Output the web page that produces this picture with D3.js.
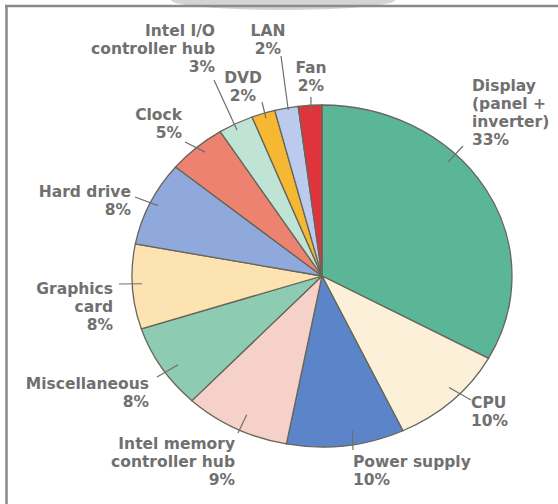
<!DOCTYPE html>
<html>
<head>
<meta charset="utf-8">
<script src="https://cdn.jsdelivr.net/npm/d3@7"></script>
<style>
  html, body { margin: 0; padding: 0; background: #fff; }
  svg { display: block; }
  text { font-family: "DejaVu Sans", sans-serif; font-weight: bold; }
</style>
</head>
<body>
<svg id="chart" width="558" height="504"></svg>
<script>
// ---- data ----
const categories = ["Display (panel + inverter)", "CPU", "Power supply", "Intel memory controller hub",
  "Miscellaneous", "Graphics card", "Hard drive", "Clock", "Intel I/O controller hub", "DVD", "LAN", "Fan"];
const values = [33, 10, 10, 9, 8, 8, 8, 5, 3, 2, 2, 2];
const labelLines = [
  ["Display", "(panel +", "inverter)", "33%"],
  ["CPU", "10%"],
  ["Power supply", "10%"],
  ["Intel memory", "controller hub", "9%"],
  ["Miscellaneous", "8%"],
  ["Graphics", "card", "8%"],
  ["Hard drive", "8%"],
  ["Clock", "5%"],
  ["Intel I/O", "controller hub", "3%"],
  ["DVD", "2%"],
  ["LAN", "2%"],
  ["Fan", "2%"]
];
const colors = ["#5bb597", "#fdf0d8", "#5b85c8", "#f6d1c9", "#8ecbb3", "#fde3b1",
  "#8fa9dd", "#ee8271", "#bfe3d4", "#f6b732", "#bccaee", "#e0343d"];

// ---- layout ----
const cx = 322, cy = 276, rx = 190, ry = 171;
// label anchor: [x, firstLineY, anchor]
const labelPos = [
  [472, 85, "start"], [471, 402, "start"], [353, 461, "start"], [235, 443, "end"],
  [149, 383, "end"], [113, 288, "end"], [131, 191, "end"], [182, 114, "end"],
  [215, 30, "end"], [243, 77, "middle"], [268, 30, "middle"], [311, 67, "middle"]
];
const lineH = 18;
// leader: [fraction along slice, radius fraction, outer x, outer y]
const leaders = [
  [0.378, 0.94, 463, 146], [0.43, 0.934, 471, 400], [0.42, 0.914, 353, 450], [0.47, 0.903, 238, 433],
  [0.43, 0.918, 157, 377], [0.53, 0.948, 119, 284], [0.51, 0.956, 135, 197], [0.56, 0.95, 185, 142],
  [0.44, 0.963, 214, 80], [0.54, 0.97, 262, 102], [0.56, 0.987, 281, 56], [0.51, 0.96, 311, 97]
];

const svg = d3.select("#chart");

// faint watermark shape at top
svg.append("ellipse").attr("cx", 283).attr("cy", 0).attr("rx", 112).attr("ry", 10)
  .attr("fill", "#d4d4d4");

// frame
svg.append("line").attr("x1", 5).attr("x2", 558).attr("y1", 6).attr("y2", 6)
  .attr("stroke", "#8a8a8a").attr("stroke-width", 2.5);
svg.append("line").attr("x1", 6.5).attr("x2", 6.5).attr("y1", 5).attr("y2", 504)
  .attr("stroke", "#8a8a8a").attr("stroke-width", 2.5);

const pie = d3.pie().value(d => d).sort(null);
const arcs = pie(values);
const arc = d3.arc().innerRadius(0).outerRadius(rx);

const g = svg.append("g").attr("transform", `translate(${cx},${cy}) scale(1,${ry / rx})`);
g.selectAll("path").data(arcs).join("path")
  .attr("d", arc)
  .attr("fill", (d, i) => colors[i])
  .attr("stroke", "#66665a")
  .attr("stroke-width", 1.3)
  .attr("vector-effect", "non-scaling-stroke");

// leader lines
arcs.forEach((a, i) => {
  const [t, rf, ox, oy] = leaders[i];
  const ang = a.startAngle + t * (a.endAngle - a.startAngle);
  const ix = cx + rf * rx * Math.sin(ang);
  const iy = cy - rf * ry * Math.cos(ang);
  svg.append("line").attr("x1", ox).attr("y1", oy).attr("x2", ix).attr("y2", iy)
    .attr("stroke", "#6f6f6f").attr("stroke-width", 1.2);
});

// labels
labelLines.forEach((lines, i) => {
  const [x, y, anchor] = labelPos[i];
  const t = svg.append("text").attr("text-anchor", anchor)
    .attr("fill", "#707070").attr("font-size", 15.5);
  lines.forEach((s, j) => {
    t.append("tspan").attr("x", x).attr("y", y + j * lineH).attr("dy", "0.36em").text(s);
  });
});
</script>
</body>
</html>
